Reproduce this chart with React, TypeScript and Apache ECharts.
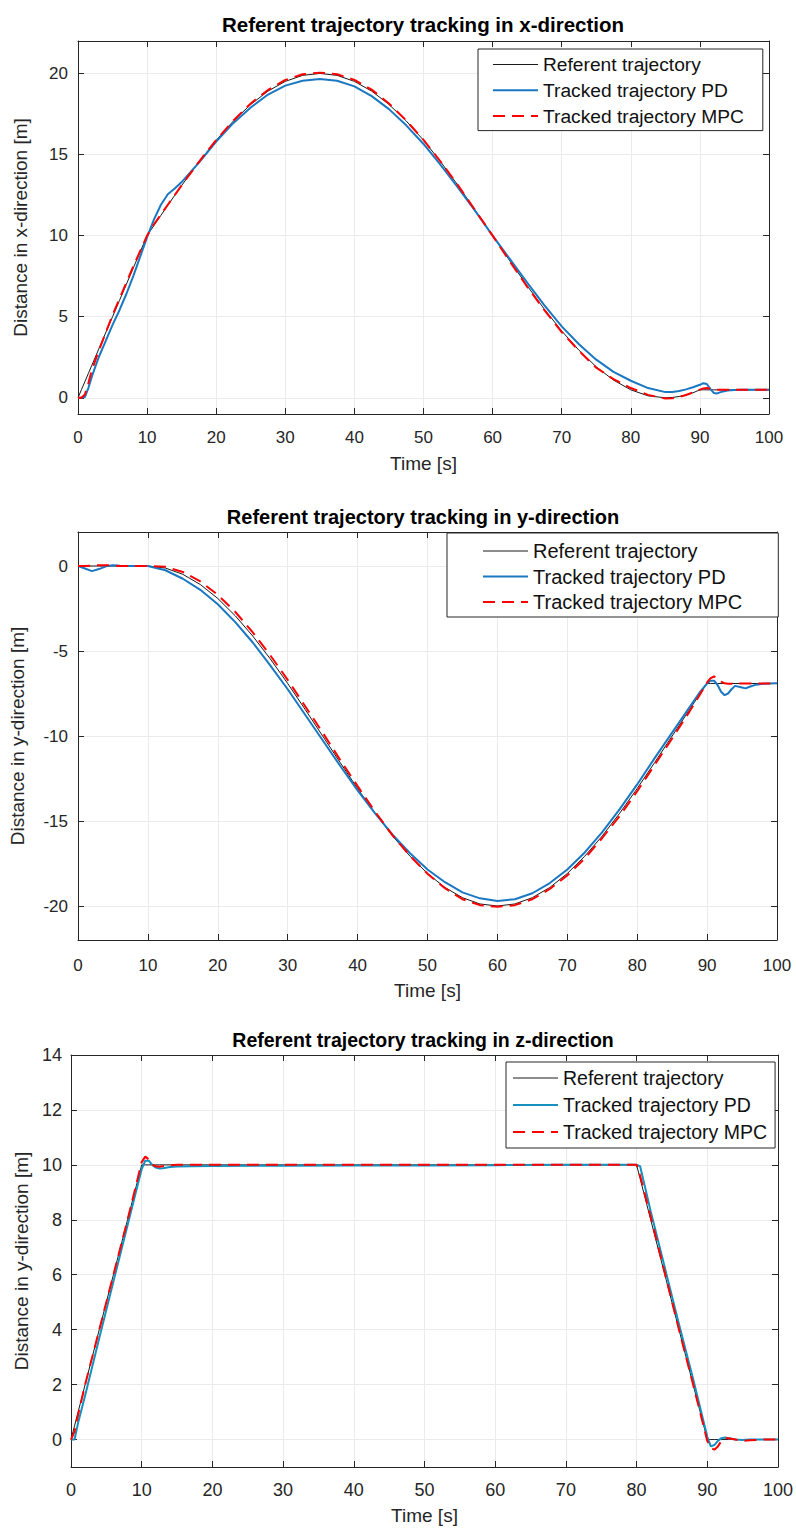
import React, { useEffect, useRef } from "react";
import * as echarts from "echarts";

// ---------- Data ----------
const SERIES_NAMES = ["Referent trajectory", "Tracked trajectory PD", "Tracked trajectory MPC"];
const TITLES = [
  "Referent trajectory tracking in x-direction",
  "Referent trajectory tracking in y-direction",
  "Referent trajectory tracking in z-direction",
];
const Y_NAMES = ["Distance in x-direction [m]", "Distance in y-direction [m]", "Distance in y-direction [m]"];
const X_NAME = "Time [s]";

// Plot 1: x-direction
const T1 = [0, 0.5, 1, 1.5, 2, 3, 4, 5, 6, 7, 8, 9, 10, 11, 12, 13, 14, 15, 17.5, 20, 22.5, 25, 27.5, 30, 32.5, 35, 37.5, 40, 42.5, 45, 47.5, 50, 52.5, 55, 57.5, 60, 62.5, 65, 67.5, 70, 72.5, 75, 77.5, 80, 82.5, 85, 86, 87, 88, 89, 90, 90.5, 91, 91.5, 92, 92.5, 93, 94, 95, 96, 98, 100];
const REF_X = [0, 0.5, 1, 1.5, 2, 3, 4, 5, 6, 7, 8, 9, 10, 10.63, 11.25, 11.87, 12.49, 13.09, 14.54, 15.88, 17.07, 18.09, 18.91, 19.51, 19.88, 20, 19.88, 19.51, 18.91, 18.09, 17.07, 15.88, 14.54, 13.09, 11.56, 10, 8.44, 6.91, 5.46, 4.12, 2.93, 1.91, 1.09, 0.49, 0.12, 0, 0.02, 0.08, 0.18, 0.31, 0.49, 0.49, 0.49, 0.49, 0.49, 0.49, 0.49, 0.49, 0.49, 0.49, 0.49, 0.49];
const PD_X = [0, 0, 0.05, 0.6, 1.3, 2.5, 3.5, 4.5, 5.4, 6.4, 7.5, 8.7, 9.9, 11.0, 11.9, 12.55, 12.9, 13.3, 14.5, 15.8, 16.95, 17.9, 18.7, 19.25, 19.55, 19.65, 19.55, 19.2, 18.6, 17.8, 16.8, 15.65, 14.35, 12.95, 11.5, 10.0, 8.55, 7.1, 5.7, 4.4, 3.3, 2.35, 1.6, 1.05, 0.6, 0.35, 0.36, 0.42, 0.52, 0.65, 0.8, 0.9, 0.85, 0.55, 0.3, 0.27, 0.35, 0.45, 0.48, 0.5, 0.5, 0.5];
const MPC_X = [0, 0, 0.2, 0.9, 1.7, 2.9, 4.0, 5.1, 6.1, 7.1, 8.1, 9.05, 10.0, 10.7, 11.3, 11.9, 12.5, 13.1, 14.55, 15.9, 17.1, 18.15, 18.98, 19.6, 19.95, 20.05, 19.95, 19.6, 19.0, 18.15, 17.1, 15.9, 14.55, 13.1, 11.55, 10.0, 8.4, 6.85, 5.4, 4.05, 2.9, 1.85, 1.15, 0.6, 0.18, -0.05, -0.03, 0.05, 0.17, 0.33, 0.5, 0.58, 0.6, 0.55, 0.5, 0.5, 0.5, 0.5, 0.5, 0.5, 0.5, 0.5];

// Plot 2: y-direction
const T2 = [0, 1, 2, 3, 4, 5, 6, 8, 10, 12.5, 15, 17.5, 20, 22.5, 25, 27.5, 30, 32.5, 35, 37.5, 40, 42.5, 45, 47.5, 50, 52.5, 55, 57.5, 60, 62.5, 65, 67.5, 70, 72.5, 75, 77.5, 80, 82.5, 85, 87.5, 89, 90, 90.5, 91, 91.5, 92, 92.5, 93, 93.5, 94, 95, 95.5, 96, 97, 98, 100];
const REF_Y = [0, 0, 0, 0, 0, 0, 0, 0, 0, -0.12, -0.49, -1.09, -1.91, -2.93, -4.12, -5.46, -6.91, -8.44, -10, -11.56, -13.09, -14.54, -15.88, -17.07, -18.09, -18.91, -19.51, -19.88, -20, -19.88, -19.51, -18.91, -18.09, -17.07, -15.88, -14.54, -13.09, -11.56, -10, -8.44, -7.51, -6.91, -6.91, -6.91, -6.91, -6.91, -6.91, -6.91, -6.91, -6.91, -6.91, -6.91, -6.91, -6.91, -6.91, -6.91];
const PD_Y = [0, -0.15, -0.3, -0.18, -0.02, 0.05, 0.02, 0, 0, -0.25, -0.75, -1.4, -2.25, -3.3, -4.5, -5.85, -7.25, -8.75, -10.25, -11.75, -13.2, -14.55, -15.8, -16.9, -17.85, -18.6, -19.2, -19.55, -19.7, -19.6, -19.25, -18.65, -17.85, -16.85, -15.65, -14.3, -12.85, -11.3, -9.8, -8.3, -7.4, -6.9, -6.75, -6.75, -7.0, -7.4, -7.6, -7.5, -7.25, -7.05, -7.15, -7.2, -7.12, -6.98, -6.92, -6.9];
const MPC_Y = [0, 0, 0.02, 0.05, 0.05, 0.02, 0, 0, 0, -0.05, -0.35, -0.9, -1.7, -2.7, -3.9, -5.25, -6.7, -8.25, -9.8, -11.4, -12.95, -14.45, -15.85, -17.05, -18.1, -18.95, -19.6, -19.95, -20.05, -19.95, -19.6, -19.0, -18.2, -17.2, -16.0, -14.7, -13.25, -11.7, -10.15, -8.55, -7.55, -6.85, -6.6, -6.5, -6.6, -6.8, -6.9, -6.92, -6.92, -6.91, -6.91, -6.91, -6.91, -6.91, -6.91, -6.91];

// Plot 3: z-direction
const T3 = [0, 0.5, 1, 2, 4, 6, 8, 10, 10.5, 11, 11.5, 12, 12.5, 13, 14, 15, 17, 20, 30, 40, 50, 60, 70, 80, 80.5, 81, 82, 84, 86, 88, 90, 90.5, 91, 91.5, 92, 92.5, 93, 94, 95, 96, 98, 100];
const REF_Z = [0, 0.5, 1, 2, 4, 6, 8, 10, 10, 10, 10, 10, 10, 10, 10, 10, 10, 10, 10, 10, 10, 10, 10, 10, 9.5, 9, 8, 6, 4, 2, 0, 0, 0, 0, 0, 0, 0, 0, 0, 0, 0, 0];
const PD_Z = [0, 0, 0.6, 1.6, 3.7, 5.75, 7.8, 9.85, 10.15, 10.15, 10.0, 9.9, 9.87, 9.88, 9.92, 9.94, 9.95, 9.96, 9.97, 9.98, 9.98, 9.99, 10, 10, 9.95, 9.4, 8.3, 6.25, 4.2, 2.2, 0.1, -0.25, -0.2, -0.05, 0.05, 0.07, 0.05, 0, -0.02, 0, 0, 0];
const MPC_Z = [0, 0.3, 0.9, 2.0, 4.0, 6.0, 8.0, 10.1, 10.3, 10.2, 10.0, 9.95, 9.93, 9.95, 9.98, 10, 10, 10, 10, 10, 10, 10, 10, 10, 9.6, 9.1, 8.1, 6.05, 4.0, 2.0, -0.05, -0.3, -0.37, -0.25, -0.05, 0.05, 0.05, 0, -0.05, -0.03, 0, 0];

// Axis ranges
const X_RANGE = [0, 100];
const Y_RANGES = [
  [-1, 22],
  [-22, 2],
  [-1, 14],
];
const Y_STEPS = [5, 5, 2];

// ---------- Layout / style ----------
const GRIDS = [
  { left: 78, top: 41, width: 691, height: 373 },
  { left: 72, top: 532, width: 705, height: 408 },
  { left: 71, top: 1055, width: 708, height: 412 },
];
const TITLE_POS = [
  { x: 423, y: 24, size: 20.5 },
  { x: 423, y: 517, size: 20 },
  { x: 423, y: 1040, size: 19.5 },
];
const LEGENDS = [
  { left: 478, top: 49, padding: [6, 19, 5, 14], gap: 6.8, font: 19.2 },
  { left: 447, top: 533, padding: [8, 36, 5, 35], gap: 5.5, font: 20 },
  { left: 506, top: 1062, padding: [6, 8, 6, 6], gap: 7, font: 19.5 },
];
const PD_COLORS = ["#1a78c2", "#1a78c2", "#1690bf"];
const REF_COLOR = "#1a1a1a";
const MPC_COLOR = "#ff0000";
const AX_COLOR = "#262626";
const FONT = "Liberation Sans";

function zip(t: number[], v: number[]) {
  return t.map((x, i) => [x, v[i]]);
}

export default function App() {
  const ref = useRef<HTMLDivElement>(null);

  useEffect(() => {
    if (!ref.current) return;
    const chart = echarts.init(ref.current, undefined, { renderer: "svg" });

    const data = [
      [T1, REF_X, PD_X, MPC_X],
      [T2, REF_Y, PD_Y, MPC_Y],
      [T3, REF_Z, PD_Z, MPC_Z],
    ];

    const xAxes: any[] = [];
    const yAxes: any[] = [];
    const series: any[] = [];
    const legends: any[] = [];
    const graphics: any[] = [];

    const xNameGap = [40, 41, 39];
    const yNameGap = [48, 51, 35];
    const xLabelMargin = [15, 17, 14];
    const yLabelMargin = [10, 10, 9];
    const tickFont = [17, 17, 18];

    for (let i = 0; i < 3; i++) {
      const axisLine = { show: true, onZero: false, lineStyle: { color: AX_COLOR, width: 1 } };
      const axisTick = { show: true, inside: true, length: 6, lineStyle: { color: AX_COLOR, width: 1 } };
      const step = Y_STEPS[i];
      xAxes.push({
        type: "value",
        gridIndex: i,
        min: X_RANGE[0],
        max: X_RANGE[1],
        interval: 10,
        position: "bottom",
        axisLine,
        axisTick,
        splitLine: { show: true, lineStyle: { color: "#ebebeb", width: 1 } },
        axisLabel: { color: AX_COLOR, fontSize: tickFont[i], fontFamily: FONT, margin: xLabelMargin[i] },
        name: X_NAME,
        nameLocation: "middle",
        nameGap: xNameGap[i],
        nameTextStyle: { color: AX_COLOR, fontSize: 19, fontFamily: FONT },
      });
      xAxes.push({
        type: "value",
        gridIndex: i,
        min: X_RANGE[0],
        max: X_RANGE[1],
        interval: 10,
        position: "top",
        axisLine,
        axisTick,
        splitLine: { show: false },
        axisLabel: { show: false },
      });
      yAxes.push({
        type: "value",
        gridIndex: i,
        min: Y_RANGES[i][0],
        max: Y_RANGES[i][1],
        splitNumber: i === 2 ? 7 : 5,
        position: "left",
        axisLine,
        axisTick,
        splitLine: { show: true, lineStyle: { color: "#ebebeb", width: 1 } },
        axisLabel: {
          color: AX_COLOR,
          fontSize: tickFont[i],
          fontFamily: FONT,
          margin: yLabelMargin[i],
          formatter: (v: number) => (Math.abs(v % step) < 1e-9 ? String(v) : ""),
        },
        name: Y_NAMES[i],
        nameLocation: "middle",
        nameGap: yNameGap[i],
        nameTextStyle: { color: AX_COLOR, fontSize: 19, fontFamily: FONT },
      });
      yAxes.push({
        type: "value",
        gridIndex: i,
        min: Y_RANGES[i][0],
        max: Y_RANGES[i][1],
        splitNumber: i === 2 ? 7 : 5,
        position: "right",
        axisLine,
        axisTick,
        splitLine: { show: false },
        axisLabel: { show: false },
      });

      const [t, r, p, m] = data[i];
      series.push({
        type: "line",
        name: SERIES_NAMES[0],
        xAxisIndex: 2 * i,
        yAxisIndex: 2 * i,
        data: zip(t, r),
        showSymbol: false,
        symbol: "none",
        lineStyle: { color: REF_COLOR, width: 1 },
        itemStyle: { color: REF_COLOR },
        z: 2,
      });
      series.push({
        type: "line",
        name: SERIES_NAMES[1],
        xAxisIndex: 2 * i,
        yAxisIndex: 2 * i,
        data: zip(t, p),
        showSymbol: false,
        symbol: "none",
        lineStyle: { color: PD_COLORS[i], width: 2 },
        itemStyle: { color: PD_COLORS[i] },
        z: 3,
      });
      series.push({
        type: "line",
        name: SERIES_NAMES[2],
        xAxisIndex: 2 * i,
        yAxisIndex: 2 * i,
        data: zip(t, m),
        showSymbol: false,
        symbol: "none",
        lineStyle: { color: MPC_COLOR, width: 2, type: [12, 7] },
        itemStyle: { color: MPC_COLOR },
        z: 4,
      });

      const L = LEGENDS[i];
      legends.push({
        left: L.left,
        top: L.top,
        orient: "vertical",
        itemWidth: 45,
        itemHeight: 14,
        itemGap: L.gap,
        padding: L.padding,
        borderColor: AX_COLOR,
        borderWidth: 1,
        backgroundColor: "#ffffff",
        selectedMode: false,
        itemStyle: { opacity: 0 },
        textStyle: { color: "#111", fontSize: L.font, fontFamily: FONT },
        data: [
          { name: SERIES_NAMES[0], lineStyle: { color: REF_COLOR, width: 1 } },
          { name: SERIES_NAMES[1], lineStyle: { color: PD_COLORS[i], width: 2 } },
          { name: SERIES_NAMES[2], lineStyle: { color: MPC_COLOR, width: 2, type: [12, 7] } },
        ],
        z: 10,
      });

      const tp = TITLE_POS[i];
      graphics.push({
        type: "text",
        x: tp.x,
        y: tp.y,
        style: {
          text: TITLES[i],
          fontSize: tp.size,
          fontWeight: "bold",
          fontFamily: FONT,
          fill: "#000",
          align: "center",
          verticalAlign: "middle",
        },
        z: 20,
      });
    }

    chart.setOption({
      animation: false,
      backgroundColor: "#ffffff",
      grid: GRIDS.map((g) => ({ ...g, containLabel: false })),
      xAxis: xAxes,
      yAxis: yAxes,
      legend: legends,
      series,
      graphic: graphics,
    });

    return () => chart.dispose();
  }, []);

  return (
    <div
      ref={ref}
      style={{ position: "absolute", left: 0, top: 0, width: 796, height: 1528, background: "#fff" }}
    />
  );
}
